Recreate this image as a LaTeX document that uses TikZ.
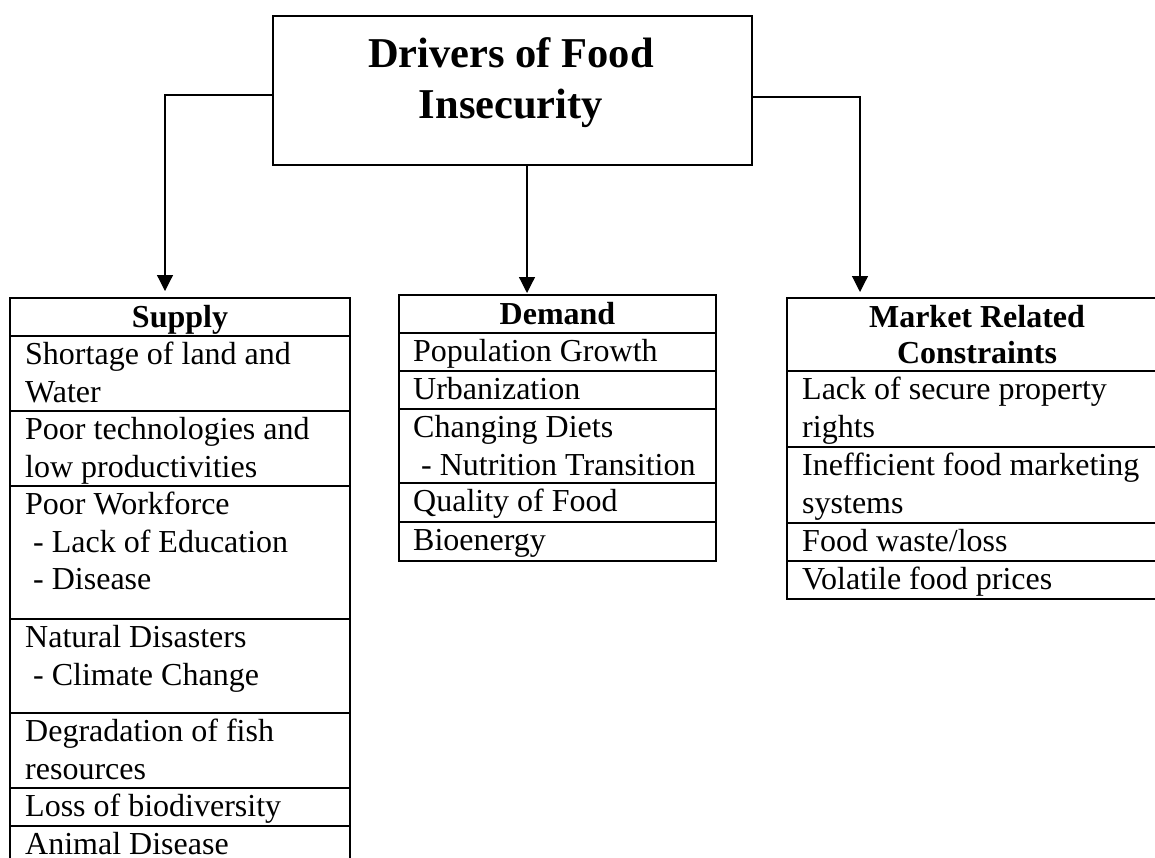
\documentclass[tikz,border=0pt]{standalone}
\usepackage{fontspec}
\setmainfont{Liberation Serif}
\usetikzlibrary{arrows.meta}
% invisible struts that fix the first baseline of a cell
\newcommand{\rowtop}{\vrule height 28.5pt depth 0pt width 0pt}
\newcommand{\headtop}{\vrule height 29.5pt depth 0pt width 0pt}
\newcommand{\subpad}{\hspace*{8pt}}
\begin{document}
\begin{tikzpicture}[x=1pt,y=-1pt,
  frame/.style={line width=2pt},
  conn/.style={line width=1.2pt,-{Triangle[width=16pt,length=16pt]}},
  cell/.style={anchor=north west,inner sep=0pt,align=left,
               font=\fontsize{32}{37.5}\selectfont},
  head/.style={anchor=north,inner sep=0pt,align=center,
               font=\fontsize{32}{35.5}\selectfont\bfseries},
]
\useasboundingbox (0,0) rectangle (1155,857);
\clip (0,0) rectangle (1155,857);

% ---- root box
\node[draw,frame,minimum width=479pt,minimum height=149pt,inner sep=0pt]
  (top) at (512.5,90.5) {};
\node[anchor=north,inner sep=0pt,align=center,
      font=\fontsize{42.5}{51}\selectfont\bfseries]
  (title) at (511,27) {\vrule height 40pt width 0pt Drivers of Food\\Insecurity};

% ---- arrow targets above each column
\coordinate (supin) at (165,291);
\coordinate (demin) at (527,293);
\coordinate (mktin) at (860,292);

\draw[conn] ([yshift=-4.5pt]top.west) -| (supin);
\draw[conn] (top.south -| demin) -- (demin);
\draw[conn] ([yshift=-6.5pt]top.east) -| (mktin);

% ---- Supply column
\draw[frame] (10,298) rectangle (350,880);
\foreach \yy in {336,411,486,619,713,788,826}
  \draw[frame] (10,\yy) -- (350,\yy);
\node[head] (s0) at (180,298) {\headtop Supply};
\node[cell] (s1) at (25,336) {\rowtop Shortage of land and\\Water};
\node[cell] (s2) at (25,411) {\rowtop Poor technologies and\\low productivities};
\node[cell] (s3) at (25,486) {\rowtop Poor Workforce\\\subpad- Lack of Education\\\subpad- Disease};
\node[cell] (s4) at (25,619) {\rowtop Natural Disasters\\\subpad- Climate Change};
\node[cell] (s5) at (25,713) {\rowtop Degradation of fish\\resources};
\node[cell] (s6) at (25,788) {\rowtop Loss of biodiversity};
\node[cell] (s7) at (25,826) {\rowtop Animal Disease};

% ---- Demand column
\draw[frame] (399,295) rectangle (716,561);
\foreach \yy in {333,371,409,483,522}
  \draw[frame] (399,\yy) -- (716,\yy);
\node[head] (d0) at (557.5,295) {\headtop Demand};
\node[cell] (d1) at (413,333) {\rowtop Population Growth};
\node[cell] (d2) at (413,371) {\rowtop Urbanization};
\node[cell] (d3) at (413,409) {\rowtop Changing Diets\\\subpad- Nutrition Transition};
\node[cell] (d4) at (413,483) {\rowtop Quality of Food};
\node[cell] (d5) at (413,522) {\rowtop Bioenergy};

% ---- Market column
\draw[frame] (787,298) rectangle (1167,599);
\foreach \yy in {371,447,523,561}
  \draw[frame] (787,\yy) -- (1167,\yy);
\node[head] (m0) at (977,298) {\headtop Market Related\\Constraints};
\node[cell] (m1) at (802,371) {\rowtop Lack of secure property\\rights};
\node[cell] (m2) at (802,447) {\rowtop Inefficient food marketing\\systems};
\node[cell] (m3) at (802,523) {\rowtop Food waste/loss};
\node[cell] (m4) at (802,561) {\rowtop Volatile food prices};
\end{tikzpicture}
\end{document}
